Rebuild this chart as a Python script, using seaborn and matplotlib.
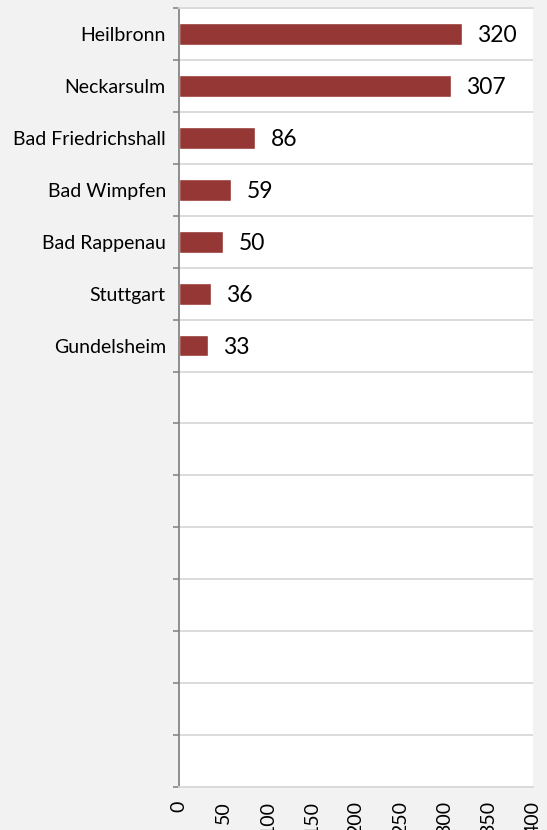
import numpy as np
import pandas as pd
import matplotlib
matplotlib.use("Agg")
import matplotlib.pyplot as plt
import seaborn as sns


CITIES = ["Heilbronn", "Neckarsulm", "Bad Friedrichshall", "Bad Wimpfen",
          "Bad Rappenau", "Stuttgart", "Gundelsheim"]
COUNTS = [320, 307, 86, 59, 50, 36, 33]

N_SLOTS = 15
X_TICKS = [0, 50, 100, 150, 200, 250, 300, 350, 400]

BG_COLOR = "#f2f2f2"
BAR_COLOR = "#953735"
GRID_COLOR = "#d9d9d9"
AXIS_COLOR = "#868686"


def main():
    sns.set_style("white")
    plt.rcParams["font.family"] = ["Lato", "DejaVu Sans"]

    df = pd.DataFrame({"city": CITIES, "count": COUNTS})

    fig = plt.figure(figsize=(5.47, 8.30), dpi=100, facecolor=BG_COLOR)
    ax = fig.add_axes([179 / 547, 1 - 787 / 830, 354 / 547, 779 / 830])
    ax.set_facecolor("white")

    sns.barplot(
        data=df,
        x="count",
        y="city",
        order=CITIES,
        color=BAR_COLOR,
        saturation=1,
        width=0.42,
        orient="h",
        ax=ax
    )

    ax.set_xlim(0, 400)
    ax.set_ylim(N_SLOTS - 0.5, -0.5)
    ax.set_xticks(X_TICKS)
    ax.set_xticklabels([str(t) for t in X_TICKS], rotation=90, fontsize=14)
    ax.set_yticks(range(len(CITIES)))
    ax.set_yticklabels(CITIES, fontsize=14)
    ax.set_yticks(np.arange(-0.5, N_SLOTS, 1), minor=True)

    ax.tick_params(axis="y", which="major", length=0, pad=9.5, colors="black")
    ax.tick_params(axis="y", which="minor", length=4.5, width=1.2,
                   color=AXIS_COLOR, left=True)
    ax.tick_params(axis="x", which="major", length=0, pad=10, colors="black")

    ax.grid(False)
    ax.grid(True, axis="y", which="minor", color=GRID_COLOR, linewidth=1.3)
    ax.set_axisbelow(True)

    ax.set_xlabel("")
    ax.set_ylabel("")

    ax.spines["right"].set_visible(False)
    ax.spines["top"].set_color(GRID_COLOR)
    ax.spines["top"].set_linewidth(1.3)
    ax.spines["bottom"].set_color(GRID_COLOR)
    ax.spines["bottom"].set_linewidth(1.3)
    ax.spines["left"].set_color(AXIS_COLOR)
    ax.spines["left"].set_linewidth(1.3)

    labels = ax.bar_label(ax.containers[0], labels=[str(v) for v in COUNTS],
                          padding=11, fontsize=16.5, color="black")
    for t in labels:
        t.set_va("center_baseline")

    fig.savefig("out.png", dpi=100, facecolor=BG_COLOR)
    plt.close(fig)


if __name__ == "__main__":
    main()
